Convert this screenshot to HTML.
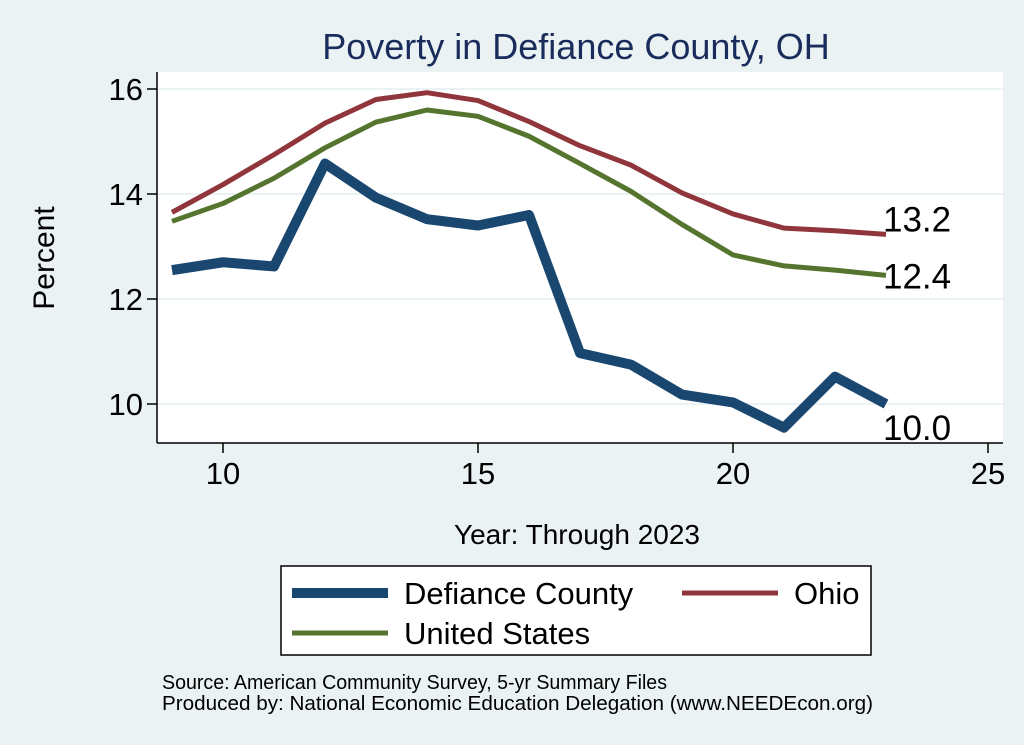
<!DOCTYPE html>
<html><head><meta charset="utf-8"><style>
html,body{margin:0;padding:0;background:#eaf2f3;}
svg{display:block;font-family:"Liberation Sans",Arial,sans-serif;}
</style></head><body>
<svg width="1024" height="745" viewBox="0 0 1024 745">
<rect x="0" y="0" width="1024" height="745" fill="#eaf2f3"/>
<text x="576" y="59" font-size="36" fill="#1a2c5b" text-anchor="middle">Poverty in Defiance County, OH</text>
<rect x="157" y="72" width="846" height="371" fill="#ffffff"/>
<g id="grid"></g>
<g id="axes"></g>
<g id="series"></g>
<text x="54" y="258" font-size="30" text-anchor="middle" transform="rotate(-90 54 258)">Percent</text>
<text x="577" y="544" font-size="28" text-anchor="middle">Year: Through 2023</text>
<g>
<rect x="281" y="566" width="590" height="89" fill="#ffffff" stroke="#000" stroke-width="1.5"/>
<g><line x1="292" y1="593" x2="388" y2="593" stroke="#1a476f" stroke-width="10"/><text x="404" y="604" font-size="31">Defiance County</text></g>
<g><line x1="682" y1="593" x2="778" y2="593" stroke="#90353b" stroke-width="5"/><text x="794" y="604" font-size="31">Ohio</text></g>
<g><line x1="292" y1="633" x2="388" y2="633" stroke="#55752f" stroke-width="5"/><text x="404" y="644" font-size="31">United States</text></g>
</g>
<text x="162" y="689" font-size="20" textLength="505" lengthAdjust="spacingAndGlyphs">Source: American Community Survey, 5-yr Summary Files</text>
<text x="162" y="710" font-size="20" textLength="711" lengthAdjust="spacingAndGlyphs">Produced by: National Economic Education Delegation (www.NEEDEcon.org)</text>
</svg>
<script>
const years=[9,10,11,12,13,14,15,16,17,18,19,20,21,22,23];
const defiance=[12.55,12.7,12.62,14.58,13.93,13.52,13.4,13.6,10.97,10.75,10.18,10.03,9.55,10.52,10.0];
const ohio=[13.65,14.18,14.75,15.35,15.8,15.93,15.78,15.38,14.92,14.55,14.02,13.62,13.35,13.3,13.23];
const us=[13.48,13.82,14.3,14.88,15.37,15.6,15.48,15.1,14.58,14.05,13.42,12.84,12.63,12.55,12.45];
const xTicks=[10,15,20,25];
const yTicks=[10,12,14,16];
const endLabels=["10.0","13.2","12.4"];
const NS="http://www.w3.org/2000/svg";
function xs(v){return 223+(v-10)*51;}
function ys(v){return 404-(v-10)*52.5;}
function mk(t,a,p){const e=document.createElementNS(NS,t);for(const k in a)e.setAttribute(k,a[k]);p.appendChild(e);return e;}
const grid=document.getElementById('grid'),axes=document.getElementById('axes'),ser=document.getElementById('series');
yTicks.forEach(v=>{
 const g=mk('line',{x1:157,x2:1003,y1:ys(v),y2:ys(v),stroke:'#eaf2f3','stroke-width':2},grid);
 
 
 mk('line',{x1:147,x2:157,y1:ys(v),y2:ys(v),stroke:'#000','stroke-width':1.5},axes);
 const t=mk('text',{x:143,y:ys(v)+11,'font-size':31,'text-anchor':'end'},axes);t.textContent=v;
 
 
});
xTicks.forEach(v=>{
 mk('line',{x1:xs(v),x2:xs(v),y1:443,y2:453,stroke:'#000','stroke-width':1.5},axes);
 const t=mk('text',{x:xs(v),y:484,'font-size':31,'text-anchor':'middle'},axes);t.textContent=v;
 
 
});
mk('line',{x1:157,x2:157,y1:72,y2:443,stroke:'#000','stroke-width':1.5},axes);
mk('line',{x1:157,x2:1003,y1:443,y2:443,stroke:'#000','stroke-width':1.5},axes);
function line(data,color,w,name){
 const p=mk('polyline',{points:years.map((y,i)=>xs(y)+','+ys(data[i])).join(' '),fill:'none',stroke:color,'stroke-width':w,'stroke-linejoin':'round'},ser);
 
 
}
line(ohio,'#90353b',5,'ohio-line');
line(us,'#55752f',5,'us-line');
line(defiance,'#1a476f',10,'defiance-line');
const last=years.length-1;
[[defiance,endLabels[0],'defiance-end-label',36],[ohio,endLabels[1],'ohio-end-label',-3],[us,endLabels[2],'us-end-label',13]].forEach(([d,l,n,dy])=>{
 const t=mk('text',{x:xs(years[last])-3,y:ys(d[last])+dy,'font-size':35},ser);t.textContent=l;
 
 
});
</script>
</body></html>
